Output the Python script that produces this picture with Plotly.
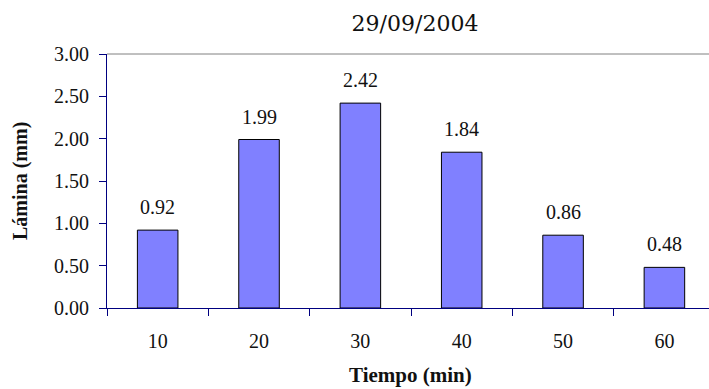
import plotly.graph_objects as go

categories = ["10", "20", "30", "40", "50", "60"]
values = [0.92, 1.99, 2.42, 1.84, 0.86, 0.48]
title_text = "29/09/2004"
x_title = "Tiempo (min)"
y_title = "Lámina (mm)"

SERIF = "Liberation Serif"
NAVY = "#000080"

fig = go.Figure()
fig.add_trace(go.Bar(
    x=categories, y=values, width=0.4,
    marker=dict(color="#8080FF", line=dict(color="#000000", width=1)),
    hoverinfo="skip",
))

for i, v in enumerate(values):
    fig.add_annotation(x=i, y=v, text=f"{v:.2f}", showarrow=False,
                       yanchor="bottom", yshift=10,
                       font=dict(family=SERIF, size=20, color="#111111"))

fig.add_annotation(xref="paper", yref="paper", x=(20-107)/602, y=0.5, text=f"<b>{y_title}</b>",
                   textangle=-90, showarrow=False, xanchor="center", yanchor="middle",
                   font=dict(family=SERIF, size=20, color="#111111"))
fig.add_annotation(xref="paper", yref="paper", x=(410-107)/602, y=-(375-308)/254,
                   text=f"<b>{x_title}</b>", showarrow=False, xanchor="center", yanchor="middle",
                   font=dict(family=SERIF, size=21, color="#111111"))

fig.add_shape(type="line", xref="paper", yref="paper", x0=0, x1=1, y0=1, y1=1,
              line=dict(color="#808080", width=1))

fig.update_layout(
    width=709, height=389,
    margin=dict(l=107, r=0, t=54, b=81),
    paper_bgcolor="white", plot_bgcolor="white",
    showlegend=False,
    title=dict(text=title_text, x=415/709, xanchor="center", y=1-23/389, yanchor="middle",
               xref="container", yref="container",
               font=dict(family="DejaVu Serif", size=22, color="#111111")),
    xaxis=dict(type="category", range=[-0.5, 5.44], tickson="boundaries",
               ticks="outside", ticklen=7, tickcolor=NAVY, tickwidth=1,
               showline=True, linecolor=NAVY, linewidth=1, showgrid=False,
               ticklabelstandoff=15,
               tickfont=dict(family=SERIF, size=20, color="#111111")),
    yaxis=dict(range=[0, 3], dtick=0.5, tick0=0, tickformat=".2f",
               ticks="outside", ticklen=7, tickcolor=NAVY, tickwidth=1,
               showline=True, linecolor=NAVY, linewidth=1, showgrid=False,
               zeroline=False, ticklabelstandoff=6,
               tickfont=dict(family=SERIF, size=20, color="#111111")),
)

fig.write_html("out.html")
